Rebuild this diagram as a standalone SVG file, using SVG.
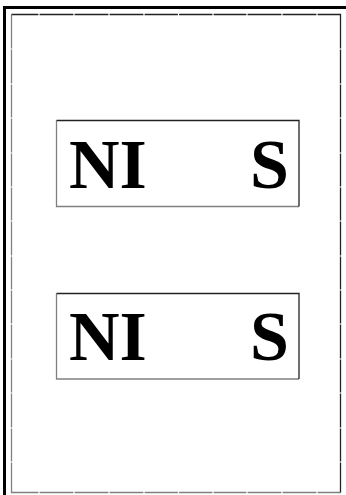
<svg xmlns="http://www.w3.org/2000/svg" width="346" height="495" viewBox="0 0 346 495">
<style>
.lbl{font-family:"Liberation Serif","Times New Roman",serif;font-weight:bold;font-size:70px;fill:#000}
.dk{stroke:#222;stroke-width:1.3;fill:none}
.lt{stroke:#808080;stroke-width:1.3;fill:none}
.tick{stroke:#fff;stroke-width:1.2}
</style>
<rect x="0" y="0" width="346" height="495" fill="#fff"/>
<g id="frame">
<path d="M4.5 495 V7.5 H346" fill="none" stroke="#000" stroke-width="3"/>
<path class="lt" d="M11.5 14.5 V492.5 H340.5"/>
<path class="dk" d="M11.5 14.5 H340.5 V492.5"/>
<g class="tick">
<path d="M39 13 v3 M74 13 v3 M109 13 v3 M144 13 v3 M178.5 13 v3 M213 13 v3 M247 13 v3 M282 13 v3 M317 13 v3"/>
<path d="M39 491 v3 M74 491 v3 M109 491 v3 M144 491 v3 M178.5 491 v3 M213 491 v3 M247 491 v3 M282 491 v3 M317 491 v3"/>
<path d="M10 49 h3 M10 84 h3 M10 118 h3 M10 153 h3 M10 187 h3 M10 221 h3 M10 256 h3 M10 290 h3 M10 324 h3 M10 359 h3 M10 393 h3 M10 428 h3 M10 462 h3"/>
<path d="M339 49 h3 M339 84 h3 M339 118 h3 M339 153 h3 M339 187 h3 M339 221 h3 M339 256 h3 M339 290 h3 M339 324 h3 M339 359 h3 M339 393 h3 M339 428 h3 M339 462 h3"/>
</g>
</g>
<g id="magnet1">
<path class="lt" d="M56.5 120.5 V206.5 H299"/>
<path class="dk" d="M56.5 120.5 H299 V206.5"/>
<text class="lbl" x="69" y="188">NI</text>
<text class="lbl" x="250" y="188">S</text>
</g>
<g id="magnet2">
<path class="lt" d="M56.5 293.5 V379 H299"/>
<path class="dk" d="M56.5 293.5 H299 V379"/>
<text class="lbl" x="69" y="360">NI</text>
<text class="lbl" x="250" y="360">S</text>
</g>
</svg>
